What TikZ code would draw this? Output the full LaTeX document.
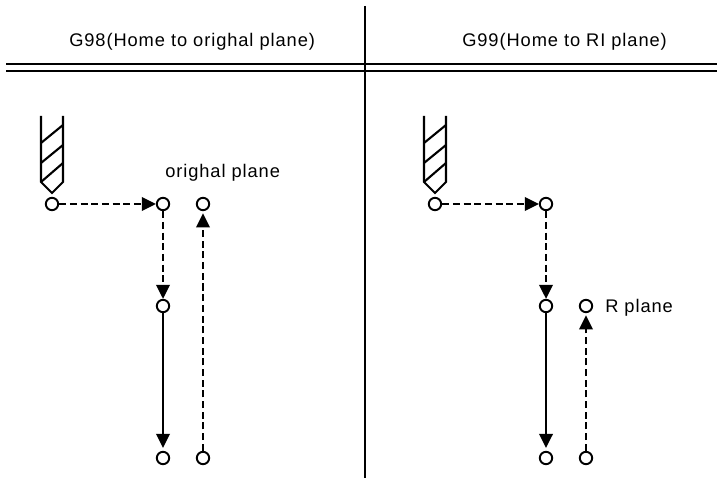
\documentclass[tikz,border=0pt]{standalone}
\usepackage{fontspec}
\setmainfont[LetterSpace=5]{Liberation Sans}
\usetikzlibrary{arrows.meta}

\tikzset{
  pt/.style={circle, draw, line width=1.4pt, fill=white, inner sep=0pt, minimum size=8.8pt},
  txt/.style={inner sep=0pt, anchor=base west, font=\fontsize{13pt}{15pt}\selectfont},
  move/.style={-{Triangle[length=10pt, width=9.6pt]}, line width=1.4pt},
  rapid/.style={move, dash pattern=on 5pt off 2.6pt},
  tool/.style={line width=1.5pt, line join=miter},
}

\begin{document}
\begin{tikzpicture}[x=0.025cm, y=-0.025cm]
  \useasboundingbox (0,0) rectangle (717,478);

  % Heading
  \coordinate (Divider-top) at (365,6);
  \coordinate (Divider-bottom) at (365,478);
  \coordinate (Rule-1-left) at (6,64);
  \coordinate (Rule-1-right) at (717,64);
  \coordinate (Rule-2-left) at (6,71);
  \coordinate (Rule-2-right) at (717,71);
  \draw[line width=1.4pt] (Divider-top) -- (Divider-bottom);
  \draw[line width=1.5pt] (Rule-1-left) -- (Rule-1-right);
  \draw[line width=1.4pt] (Rule-2-left) -- (Rule-2-right);
  \node[txt] (Title-1) at (69,47) {G98(Home to orighal plane)};
  \node[txt] (Title-2) at (462,47) {G99(Home to RI plane)};

  % Tools
  \foreach \x in {52,435} {
    \draw[tool] (\x-11,116) -- (\x-11,182) -- (\x,193) -- (\x+11,182) -- (\x+11,116);
    \draw[tool] (\x-11,143) -- (\x+11,125);
    \draw[tool] (\x-11,163) -- (\x+11,145);
    \draw[tool] (\x-11,182) -- (\x+11,163);
  }

  % G98
  \node[pt] (Start-1) at (52,204) {};
  \node[pt] (Init-1) at (163,204) {};
  \node[pt] (Back-1) at (203,204) {};
  \node[pt] (R-1) at (163,306) {};
  \node[pt] (Bottom-1) at (163,458) {};
  \node[pt] (Up-1) at (203,458) {};
  \node[txt] (Plane-1) at (165,178) {orighal plane};
  \draw[rapid] (Start-1) -- (Init-1);
  \draw[rapid] (Init-1) -- (R-1);
  \draw[move, shorten >=2pt] (R-1) -- (Bottom-1);
  \draw[rapid, shorten >=1.5pt] (Up-1) -- (Back-1);

  % G99
  \node[pt] (Start-2) at (435,204) {};
  \node[pt] (Init-2) at (546,204) {};
  \node[pt] (R-2) at (546,306) {};
  \node[pt] (Back-2) at (586,306) {};
  \node[pt] (Bottom-2) at (546,458) {};
  \node[pt] (Up-2) at (586,458) {};
  \node[txt] (Plane-2) at (605,313) {R plane};
  \draw[rapid] (Start-2) -- (Init-2);
  \draw[rapid] (Init-2) -- (R-2);
  \draw[move, shorten >=2pt] (R-2) -- (Bottom-2);
  \draw[rapid, shorten >=1.5pt] (Up-2) -- (Back-2);
\end{tikzpicture}
\end{document}
